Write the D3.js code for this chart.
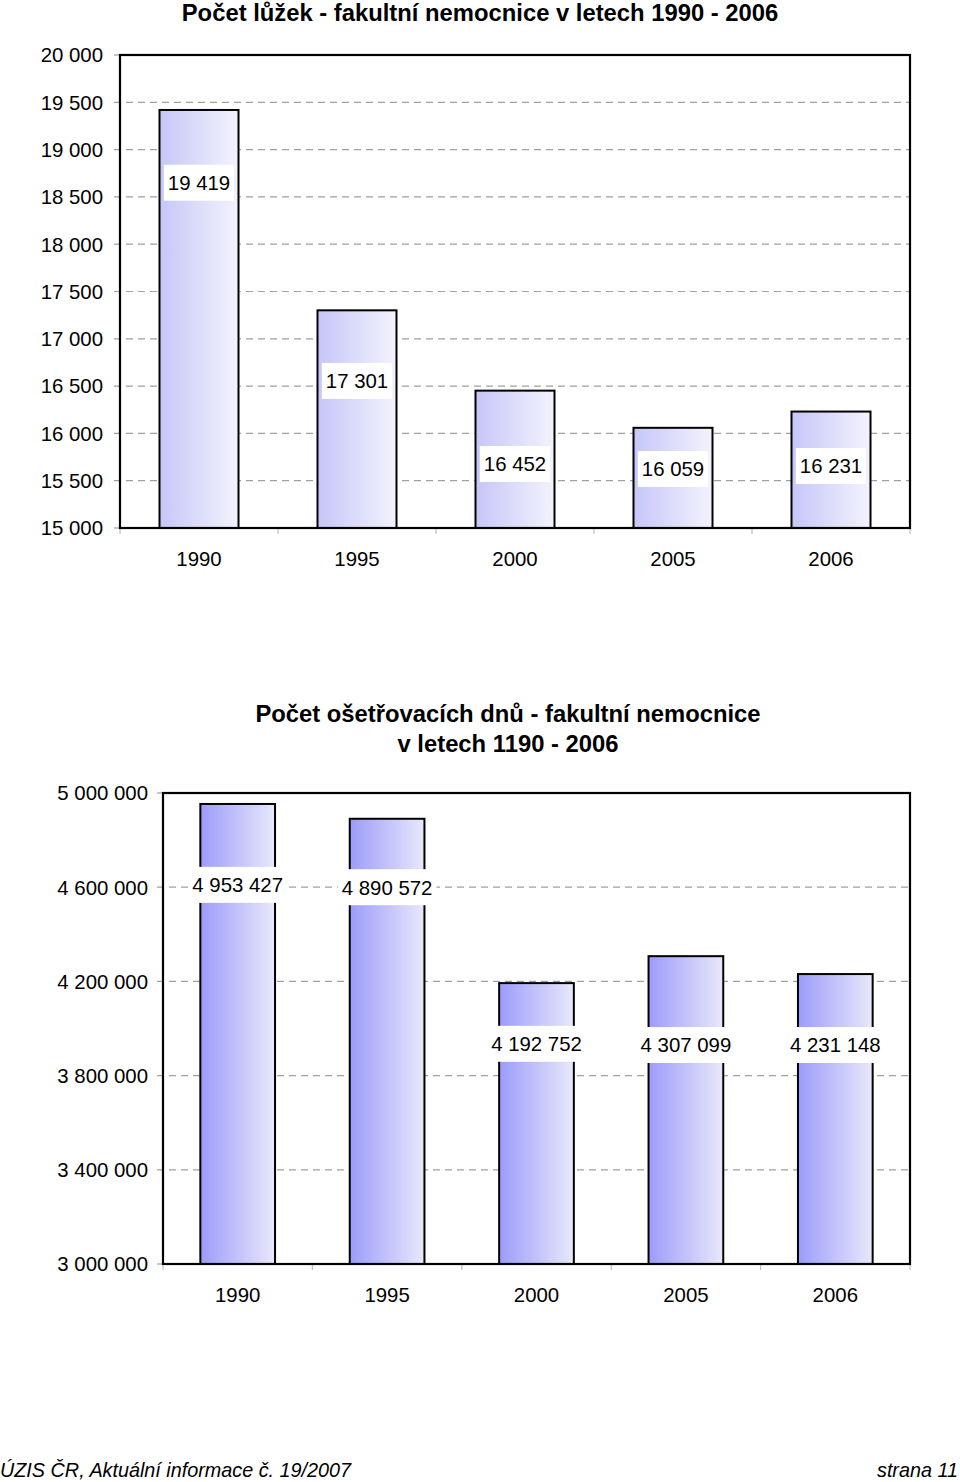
<!DOCTYPE html>
<html><head><meta charset="utf-8">
<script src="https://cdn.jsdelivr.net/npm/d3@7"></script>
<style>
html,body{margin:0;padding:0;background:#fff;}
svg{display:block;font-family:"Liberation Sans",Arial,sans-serif;}
</style></head><body>
<svg id="c" width="960" height="1482"></svg>
<script>
// ---- data ----
const years = ["1990","1995","2000","2005","2006"];
const beds = [19419, 17301, 16452, 16059, 16231];
const bedsLabelAt = [18650, 16555, 15677, 15624, 15655];   // label anchor (data units, as read)
const bedsTicks = [15000,15500,16000,16500,17000,17500,18000,18500,19000,19500,20000];
const days = [4953427, 4890572, 4192752, 4307099, 4231148];
const daysLabelAt = [4610000, 4600000, 3935000, 3930000, 3930000];
const daysTicks = [3000000,3400000,3800000,4200000,4600000,5000000];
const title1 = ["Počet lůžek - fakultní nemocnice v letech 1990 - 2006"];
const title2 = ["Počet ošetřovacích dnů - fakultní nemocnice", "v letech 1190 - 2006"];
const footerLeft = "ÚZIS ČR, Aktuální informace č. 19/2007";
const footerRight = "strana 11";

const svg = d3.select("#c");
const fmt = v => d3.format(",")(v).replace(/,/g, " ");
const defs = svg.append("defs");
function grad(id, c0, c1){
  const g = defs.append("linearGradient").attr("id", id).attr("x1","0").attr("x2","1").attr("y1","0").attr("y2","0");
  g.append("stop").attr("offset","0%").attr("stop-color", c0);
  g.append("stop").attr("offset","100%").attr("stop-color", c1);
}
grad("g1", "#c6c6f9", "#f3f3fd");
grad("g2", "#9c9cfb", "#e8e8fb");

function chart(o){
  const {x0,x1,y0,y1,domain,ticks,values,labelAt,titles,titleX,titleY,gradId,tickLabelX} = o;
  const x = d3.scaleBand().domain(years).range([x0,x1]).paddingInner(0).paddingOuter(0);
  const y = d3.scaleLinear().domain(domain).range([y1,y0]);
  const g = svg.append("g");
  // gridlines
  g.append("g").selectAll("line").data(ticks.filter(t=>t>domain[0] && t<domain[1])).join("line")
    .attr("x1", x0-6).attr("x2", x1).attr("y1", d=>y(d)).attr("y2", d=>y(d))
    .attr("stroke","#a0a0a0").attr("stroke-width",1.2).attr("stroke-dasharray","7,5");
  // small ticks at ends
  g.append("g").selectAll("line").data(ticks.filter(t=>t==domain[0]||t==domain[1])).join("line")
    .attr("x1", x0-6).attr("x2", x0).attr("y1", d=>y(d)).attr("y2", d=>y(d))
    .attr("stroke","#a0a0a0").attr("stroke-width",1.2);
  // y labels
  g.append("g").selectAll("text").data(ticks).join("text")
    .attr("x", tickLabelX).attr("y", d=>y(d)).attr("dy","0.36em").attr("text-anchor","end")
    .attr("font-size",20.4).attr("fill","#000").text(fmt);
  // x ticks
  g.append("g").selectAll("line").data(d3.range(years.length+1)).join("line")
    .attr("x1", i=>x0+i*x.bandwidth()).attr("x2", i=>x0+i*x.bandwidth())
    .attr("y1", y1).attr("y2", y1+6).attr("stroke","#c0c0c0").attr("stroke-width",1.2);
  g.append("g").selectAll("text").data(years).join("text")
    .attr("x", d=>x(d)+x.bandwidth()/2).attr("y", y1+31).attr("dy","0.36em")
    .attr("text-anchor","middle").attr("font-size",20.4).text(d=>d);
  // bars
  const bw = x.bandwidth()*0.5;
  g.append("g").selectAll("rect").data(values).join("rect")
    .attr("x", (d,i)=>x(years[i])+x.bandwidth()/2-bw/2).attr("width", bw)
    .attr("y", d=>y(d)).attr("height", d=>y1-y(d))
    .attr("fill", `url(#${gradId})`).attr("stroke","#000").attr("stroke-width",2);
  // frame
  g.append("rect").attr("x",x0).attr("y",y0).attr("width",x1-x0).attr("height",y1-y0)
    .attr("fill","none").attr("stroke","#000").attr("stroke-width",2.2);
  // labels
  const lg = g.append("g").selectAll("g").data(values).join("g")
    .attr("transform",(d,i)=>`translate(${x(years[i])+x.bandwidth()/2},${y(labelAt[i])})`);
  lg.each(function(d){
    const s = d3.select(this);
    const t = s.append("text").attr("text-anchor","middle").attr("dy","0.36em").attr("font-size",20.4).text(fmt(d));
    const w = t.node().getComputedTextLength();
    s.insert("rect","text").attr("x",-w/2-4).attr("y",-18).attr("width",w+8).attr("height",36).attr("fill","#fff");
  });
  // title
  svg.append("g").selectAll("text").data(titles).join("text")
    .attr("x", titleX).attr("y",(d,i)=>titleY+i*30).attr("dy","0.36em").attr("text-anchor","middle")
    .attr("font-size",23.8).attr("font-weight","bold").text(d=>d);
}

chart({x0:120,x1:910,y0:55,y1:528,domain:[15000,20000],ticks:bedsTicks,values:beds,labelAt:bedsLabelAt,
  titles:title1,titleX:480,titleY:12,gradId:"g1",tickLabelX:103});
chart({x0:163,x1:910,y0:793,y1:1264,domain:[3000000,5000000],ticks:daysTicks,values:days,labelAt:daysLabelAt,
  titles:title2,titleX:508,titleY:713,gradId:"g2",tickLabelX:148});

svg.append("text").attr("x",0).attr("y",1470).attr("dy","0.36em").attr("font-size",19.8).attr("font-style","italic").text(footerLeft);
svg.append("text").attr("x",958).attr("y",1470).attr("dy","0.36em").attr("text-anchor","end").attr("font-size",19.8).attr("font-style","italic").text(footerRight);
</script>
</body></html>
